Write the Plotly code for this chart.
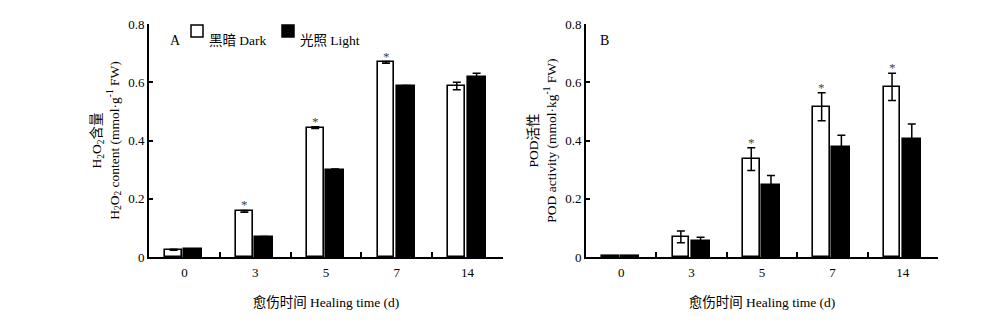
import plotly.graph_objects as go

# ---------------- data ----------------
days = ["0", "3", "5", "7", "14"]

h2o2_dark = [0.025, 0.157, 0.444, 0.668, 0.587]
h2o2_dark_err = [0.002, 0.003, 0.003, 0.003, 0.013]
h2o2_light = [0.027, 0.068, 0.300, 0.587, 0.619]
h2o2_light_err = [0.001, 0.002, 0.002, 0.002, 0.012]
h2o2_sig = [False, True, True, True, False]

pod_dark = [0.003, 0.069, 0.336, 0.516, 0.584]
pod_dark_err = [0.001, 0.020, 0.039, 0.048, 0.047]
pod_light = [0.003, 0.054, 0.248, 0.376, 0.405]
pod_light_err = [0.001, 0.014, 0.032, 0.042, 0.052]
pod_sig = [False, False, True, True, True]

y_ticks = [0, 0.2, 0.4, 0.6, 0.8]

# ---------------- style ----------------
FONT = "Liberation Serif, Noto Sans CJK SC, serif"
DARK_OFF, DARK_W = -0.27, 0.235
LIGHT_OFF, LIGHT_W = 0.0, 0.255

fig = go.Figure()

panels = [
    ("x", "y", h2o2_dark, h2o2_dark_err, h2o2_light, h2o2_light_err, h2o2_sig),
    ("x2", "y2", pod_dark, pod_dark_err, pod_light, pod_light_err, pod_sig),
]

for xa, ya, dv, de, lv, le, sig in panels:
    fig.add_trace(go.Bar(
        x=days, y=dv, xaxis=xa, yaxis=ya, name="黑暗 Dark",
        offset=DARK_OFF, width=DARK_W,
        marker=dict(color="white", line=dict(color="black", width=1.6)),
        error_y=dict(type="data", array=de, color="black", thickness=1.5, width=4),
        showlegend=False,
    ))
    fig.add_trace(go.Bar(
        x=days, y=lv, xaxis=xa, yaxis=ya, name="光照 Light",
        offset=LIGHT_OFF, width=LIGHT_W,
        marker=dict(color="black", line=dict(color="black", width=1.6)),
        error_y=dict(type="data", array=le, color="black", thickness=1.5, width=4),
        showlegend=False,
    ))
    for i, s in enumerate(sig):
        if s:
            fig.add_annotation(
                x=i + DARK_OFF + DARK_W / 2, y=dv[i] + de[i], xref=xa, yref=ya,
                text="*", showarrow=False, yanchor="bottom", yshift=-4,
                font=dict(family=FONT, size=13, color="#444"),
            )

ydom = [1 - 257 / 330, 1 - 24 / 330]

axis_common = dict(
    showline=True, linecolor="black", linewidth=1.6, mirror=False,
    showgrid=False, zeroline=False,
    tickfont=dict(family=FONT, size=13, color="black"),
    tickcolor="black",
)

xcommon = dict(
    axis_common, type="category", tickson="boundaries", ticks="inside",
    ticklen=5, tickwidth=1.5, range=[-0.5, 4.5], automargin=False,
    ticklabelstandoff=3,
    title=dict(text="愈伤时间 Healing time (d)", standoff=18,
               font=dict(family=FONT, size=13.5, color="black")),
)
ycommon = dict(
    axis_common, range=[0, 0.8], tickvals=y_ticks,
    ticktext=[("0" if v == 0 else f"{v:.1f}") for v in y_ticks],
    ticks="inside", ticklen=4, tickwidth=1.5, automargin=False,
)

fig.update_layout(
    width=1000, height=330,
    margin=dict(l=0, r=0, t=0, b=0),
    paper_bgcolor="white", plot_bgcolor="white",
    font=dict(family=FONT, size=13, color="black"),
    xaxis=dict(xcommon, domain=[0.149, 0.503], anchor="y"),
    xaxis2=dict(xcommon, domain=[0.586, 0.938], anchor="y2"),
    yaxis=dict(ycommon, domain=ydom, anchor="x",
               title=dict(text="H<sub>2</sub>O<sub>2</sub>含量<br>H<sub>2</sub>O<sub>2</sub> content (mmol·g<sup>-1</sup> FW)",
                          standoff=6, font=dict(family=FONT, size=13.5, color="black"))),
    yaxis2=dict(ycommon, domain=ydom, anchor="x2",
                title=dict(text="POD活性<br>POD activity (mmol·kg<sup>-1</sup> FW)",
                           standoff=6, font=dict(family=FONT, size=13.5, color="black"))),
    bargap=0,
)

# panel letters
fig.add_annotation(x=168 / 1000, y=1 - 31 / 330, xref="paper", yref="paper", text="A",
                   showarrow=False, font=dict(family=FONT, size=14, color="black"))
fig.add_annotation(x=604 / 1000, y=1 - 31 / 330, xref="paper", yref="paper", text="B",
                   showarrow=False, font=dict(family=FONT, size=14, color="black"))

# legend (manual, inside panel A)
legend_items = [("黑暗 Dark", "white", 197), ("光照 Light", "black", 288)]
for label, fill, cx in legend_items:
    fig.add_shape(type="rect", xref="paper", yref="paper",
                  x0=(cx - 6) / 1000, x1=(cx + 6) / 1000,
                  y0=1 - 37 / 330, y1=1 - 25 / 330,
                  fillcolor=fill, line=dict(color="black", width=1.5))
    fig.add_annotation(x=(cx + 10) / 1000, y=1 - 31 / 330, xref="paper", yref="paper",
                       text=label, showarrow=False, xanchor="left",
                       font=dict(family=FONT, size=13.5, color="black"))

fig.write_html("out.html")
